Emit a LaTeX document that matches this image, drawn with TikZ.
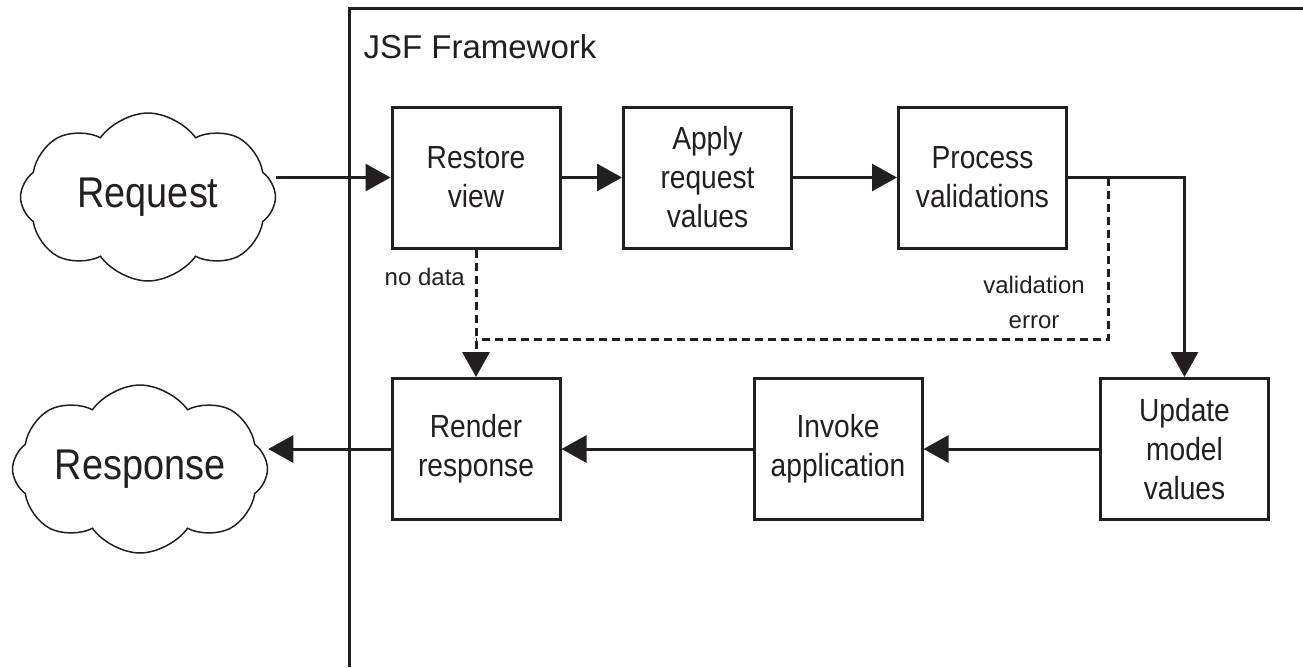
\documentclass[tikz,border=0pt]{standalone}
\usepackage{fontspec}
\setmainfont{Liberation Sans}
\newfontfamily\narrowsans{Liberation Sans}[FakeStretch=0.88]
\usetikzlibrary{shapes.symbols,arrows.meta}
\definecolor{ink}{HTML}{231F20}

\begin{document}
\begin{tikzpicture}[x=1pt,y=-1pt,ink,text=ink,
    phase/.style={draw,line width=3pt,minimum width=168pt,minimum height=141pt,
        inner sep=0pt,align=center,font=\narrowsans\fontsize{32}{39}\selectfont},
    wolke/.style={cloud,draw,line width=1.5pt,cloud puffs=8,cloud puff arc=110,
        cloud ignores aspect,minimum width=255pt,minimum height=168pt,
        font=\narrowsans\fontsize{43}{48}\selectfont},
    note/.style={font=\fontsize{24}{35}\selectfont,align=center,inner sep=0pt},
    flow/.style={line width=3pt,-{Triangle[length=25pt,width=27pt]}},
    fail/.style={line width=3pt,dash pattern=on 8pt off 5pt}]
        \useasboundingbox (0,0) rectangle (1303,667);
        % framework box, runs off the page at right and bottom
        \draw[line width=3pt] (349,667) |- (1303,8);
        \node[anchor=base west,font=\fontsize{33}{40}\selectfont] (title) at (360,58) {JSF Framework};

        \node[wolke] (request) at (148,197) {Request};
        \node[wolke] (response) at (140,469) {Response};

        \node[phase] (restore) at (476,177.5) {Restore\\view};
        \node[phase] (apply) at (707.5,177.5) {Apply\\request\\values};
        \node[phase] (process) at (982.5,177.5) {Process\\validations};
        \node[phase] (update) at (1184.5,449) {Update\\model\\values};
        \node[phase] (invoke) at (838,449) {Invoke\\application};
        \node[phase] (render) at (476,449) {Render\\response};

        \coordinate (split) at (1108,177.5);
        \coordinate (join) at (476,339);

        \draw[flow] (request.east |- restore.west) -- (restore.west);
        \draw[flow] (restore) -- (apply);
        \draw[flow] (apply) -- (process);
        \draw[flow] (process.east) -| (update.north);
        \draw[flow] (update) -- (invoke);
        \draw[flow] (invoke) -- (render);
        \draw[flow] (render.west) -- (render.west -| response.east);

        \draw[fail] (split) |- (join);
        \draw[flow,dash pattern=on 8pt off 5pt] (restore) -- (render);

        \node[note,anchor=east] (nodata) at (465,277) {no data};
        \node[note] (valerr) at (1034,302) {validation\\error};
    \end{tikzpicture}
\end{document}
